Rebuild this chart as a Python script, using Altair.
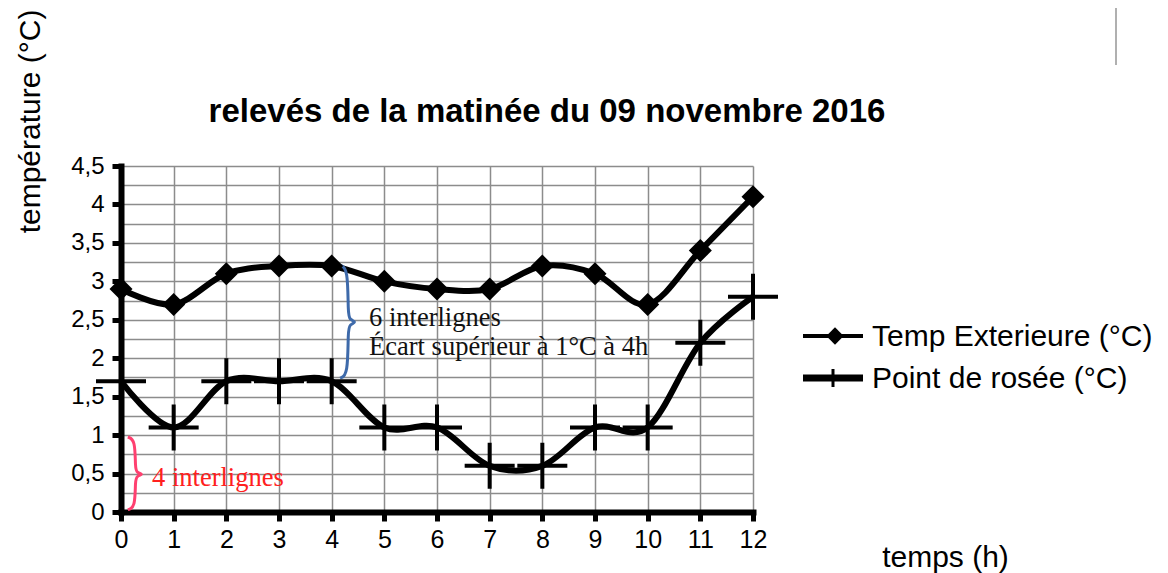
import altair as alt
import pandas as pd

# ---------------- data ----------------
hours = list(range(13))
temp_ext = [2.9, 2.7, 3.1, 3.2, 3.2, 3.0, 2.9, 2.9, 3.2, 3.1, 2.7, 3.4, 4.1]
dew_point = [1.7, 1.1, 1.7, 1.7, 1.7, 1.1, 1.1, 0.6, 0.6, 1.1, 1.1, 2.2, 2.8]
series_names = ["Temp Exterieure (°C)", "Point de rosée (°C)"]
y_grid_values = [i * 0.25 for i in range(19)]
x_tick_values = hours
title_text = "relevés de la matinée du 09 novembre 2016"
y_title = "température (°C)"
x_title = "temps (h)"

# annotation braces (data units)
blue_brace_x = [4.16, 4.31, 4.31, 4.34, 4.48, 4.34, 4.31, 4.31, 4.16]
blue_brace_y = [3.21, 3.17, 2.58, 2.50, 2.47, 2.44, 2.36, 1.78, 1.74]
red_brace_x = [0.13, 0.27, 0.27, 0.30, 0.43, 0.30, 0.27, 0.27, 0.13]
red_brace_y = [0.975, 0.94, 0.57, 0.51, 0.49, 0.47, 0.41, 0.06, 0.03]
annot_texts = ["6 interlignes", "Écart supérieur à 1°C à 4h", "4 interlignes"]
annot_x = [4.71, 4.71, 0.59]
annot_y = [2.52, 2.15, 0.44]
annot_colors = ["#111111", "#111111", "#ff2020"]

# ---------------- tables ----------------
df = pd.DataFrame({
    "hour": hours * 2,
    "value": temp_ext + dew_point,
    "serie": [series_names[0]] * len(hours) + [series_names[1]] * len(hours),
})
brace_df = pd.DataFrame({
    "hour": blue_brace_x + red_brace_x,
    "value": blue_brace_y + red_brace_y,
    "i": list(range(len(blue_brace_x))) + list(range(len(red_brace_x))),
    "b": ["blue"] * len(blue_brace_x) + ["red"] * len(red_brace_x),
})
annot_df = pd.DataFrame({"hour": annot_x, "value": annot_y, "txt": annot_texts, "col": annot_colors})
title_df = pd.DataFrame({"label": [title_text]})
legend_df = pd.DataFrame({"label": series_names})

FONT = "Liberation Sans"
SERIF = "Liberation Serif"

x_scale = alt.Scale(domain=[0, 12], nice=False, zero=False)
y_scale = alt.Scale(domain=[0, 4.5], nice=False, zero=True)

x_axis = alt.Axis(
    values=x_tick_values, grid=True, gridColor="#8c8c8c", gridWidth=1.5,
    domainColor="black", domainWidth=6, domainCap="square",
    tickColor="black", tickWidth=5, tickSize=9,
    labelFont=FONT, labelFontSize=25, labelColor="black", labelPadding=6, labelAngle=0,
    labelFlush=False,
    title=x_title, titleFont=FONT, titleFontSize=30, titleFontWeight="normal",
    titleColor="black", titleX=824, titleY=54, titleAlign="center", titleBaseline="alphabetic",
)
y_axis = alt.Axis(
    values=y_grid_values, grid=True, gridColor="#8c8c8c", gridWidth=1.5,
    domainColor="black", domainWidth=6, domainCap="square",
    tickColor="black", tickWidth=5, tickSize=9,
    tickOpacity={"condition": {"test": "datum.value % 0.5 != 0", "value": 0}, "value": 1},
    labelExpr="datum.value % 0.5 == 0 ? replace(format(datum.value, '~g'), '.', ',') : ''",
    labelFont=FONT, labelFontSize=24, labelColor="black", labelPadding=8, labelOverlap=False,
    labelFlush=False,
    title=y_title, titleFont=FONT, titleFontSize=30, titleFontWeight="normal",
    titleColor="black", titleAngle=270, titleX=-91, titleY=-45,
    titleAlign="center", titleBaseline="middle",
)

X = alt.X("hour:Q", scale=x_scale, axis=x_axis)
Y = alt.Y("value:Q", scale=y_scale, axis=y_axis)

base = alt.Chart(df)

lines = base.mark_line(interpolate="cardinal", color="black", strokeWidth=6).encode(
    x=X, y=Y, detail="serie:N",
)

diamonds = base.transform_filter(alt.datum.serie == series_names[0]).mark_point(
    shape="diamond", filled=True, color="black", size=530, opacity=1
).encode(x=X, y=Y)

crosses = base.transform_filter(alt.datum.serie == series_names[1]).mark_point(
    shape="M-1,0H1M0,-0.92V0.92", filled=False, color="black", size=2500,
    strokeWidth=4, opacity=1
).encode(x=X, y=Y)

braces = alt.Chart(brace_df).mark_line(interpolate="basis", strokeWidth=3).encode(
    x=X, y=Y, order="i:Q",
    detail="b:N",
    color=alt.Color("b:N", scale=alt.Scale(domain=["blue", "red"], range=["#3e6aaa", "#ff4070"]), legend=None),
)

annots = alt.Chart(annot_df).mark_text(
    align="left", baseline="middle", font=SERIF, fontSize=26.5
).encode(
    x=X, y=Y, text="txt:N",
    color=alt.Color("col:N", scale=None),
)

# ---- legend (drawn manually, to the right of the plot) ----
leg = alt.Chart(legend_df)
leg1 = leg.transform_filter(alt.datum.label == series_names[0])
leg2 = leg.transform_filter(alt.datum.label == series_names[1])
LX0, LX1, LXC, LXT = 682, 742, 714, 751
LY1, LY2 = 170, 212

leg1_line = leg1.mark_rule(color="black", strokeWidth=4).encode(
    x=alt.value(LX0), x2=alt.value(LX1), y=alt.value(LY1))
leg1_sym = leg1.mark_point(shape="diamond", filled=True, color="black", size=300, opacity=1).encode(
    x=alt.value(LXC), y=alt.value(LY1))
leg1_txt = leg1.mark_text(align="left", baseline="middle", font=FONT, fontSize=30, color="black").encode(
    text="label:N", x=alt.value(LXT), y=alt.value(LY1 + 1))

leg2_line = leg2.mark_rule(color="black", strokeWidth=7).encode(
    x=alt.value(LX0), x2=alt.value(LX1), y=alt.value(LY2))
leg2_tick = leg2.mark_rule(color="black", strokeWidth=3).encode(
    x=alt.value(LXC - 2), y=alt.value(LY2 - 9), y2=alt.value(LY2 + 9))
leg2_txt = leg2.mark_text(align="left", baseline="middle", font=FONT, fontSize=30, color="black").encode(
    text="label:N", x=alt.value(LXT), y=alt.value(LY2 + 1))

title_mark = alt.Chart(title_df).mark_text(
    font=FONT, fontSize=33, fontWeight="bold", align="center", baseline="alphabetic", color="black"
).encode(text="label:N", x=alt.value(426), y=alt.value(-44))

edge_rule = alt.Chart(title_df).mark_rule(color="#b0b0b0", strokeWidth=2).encode(
    x=alt.value(995), y=alt.value(-170), y2=alt.value(-101)
)

chart = alt.layer(
    lines, braces, diamonds, crosses, annots,
    leg1_line, leg1_sym, leg1_txt, leg2_line, leg2_tick, leg2_txt,
    title_mark, edge_rule
).properties(
    width=632, height=346,
    autosize=alt.AutoSizeParams(type="none"),
    padding={"left": 113, "top": 158, "right": 407, "bottom": 63},
).configure_view(stroke=None).resolve_scale(color="independent")

chart.save("out.html", embed_options={"renderer": "svg", "actions": False})
